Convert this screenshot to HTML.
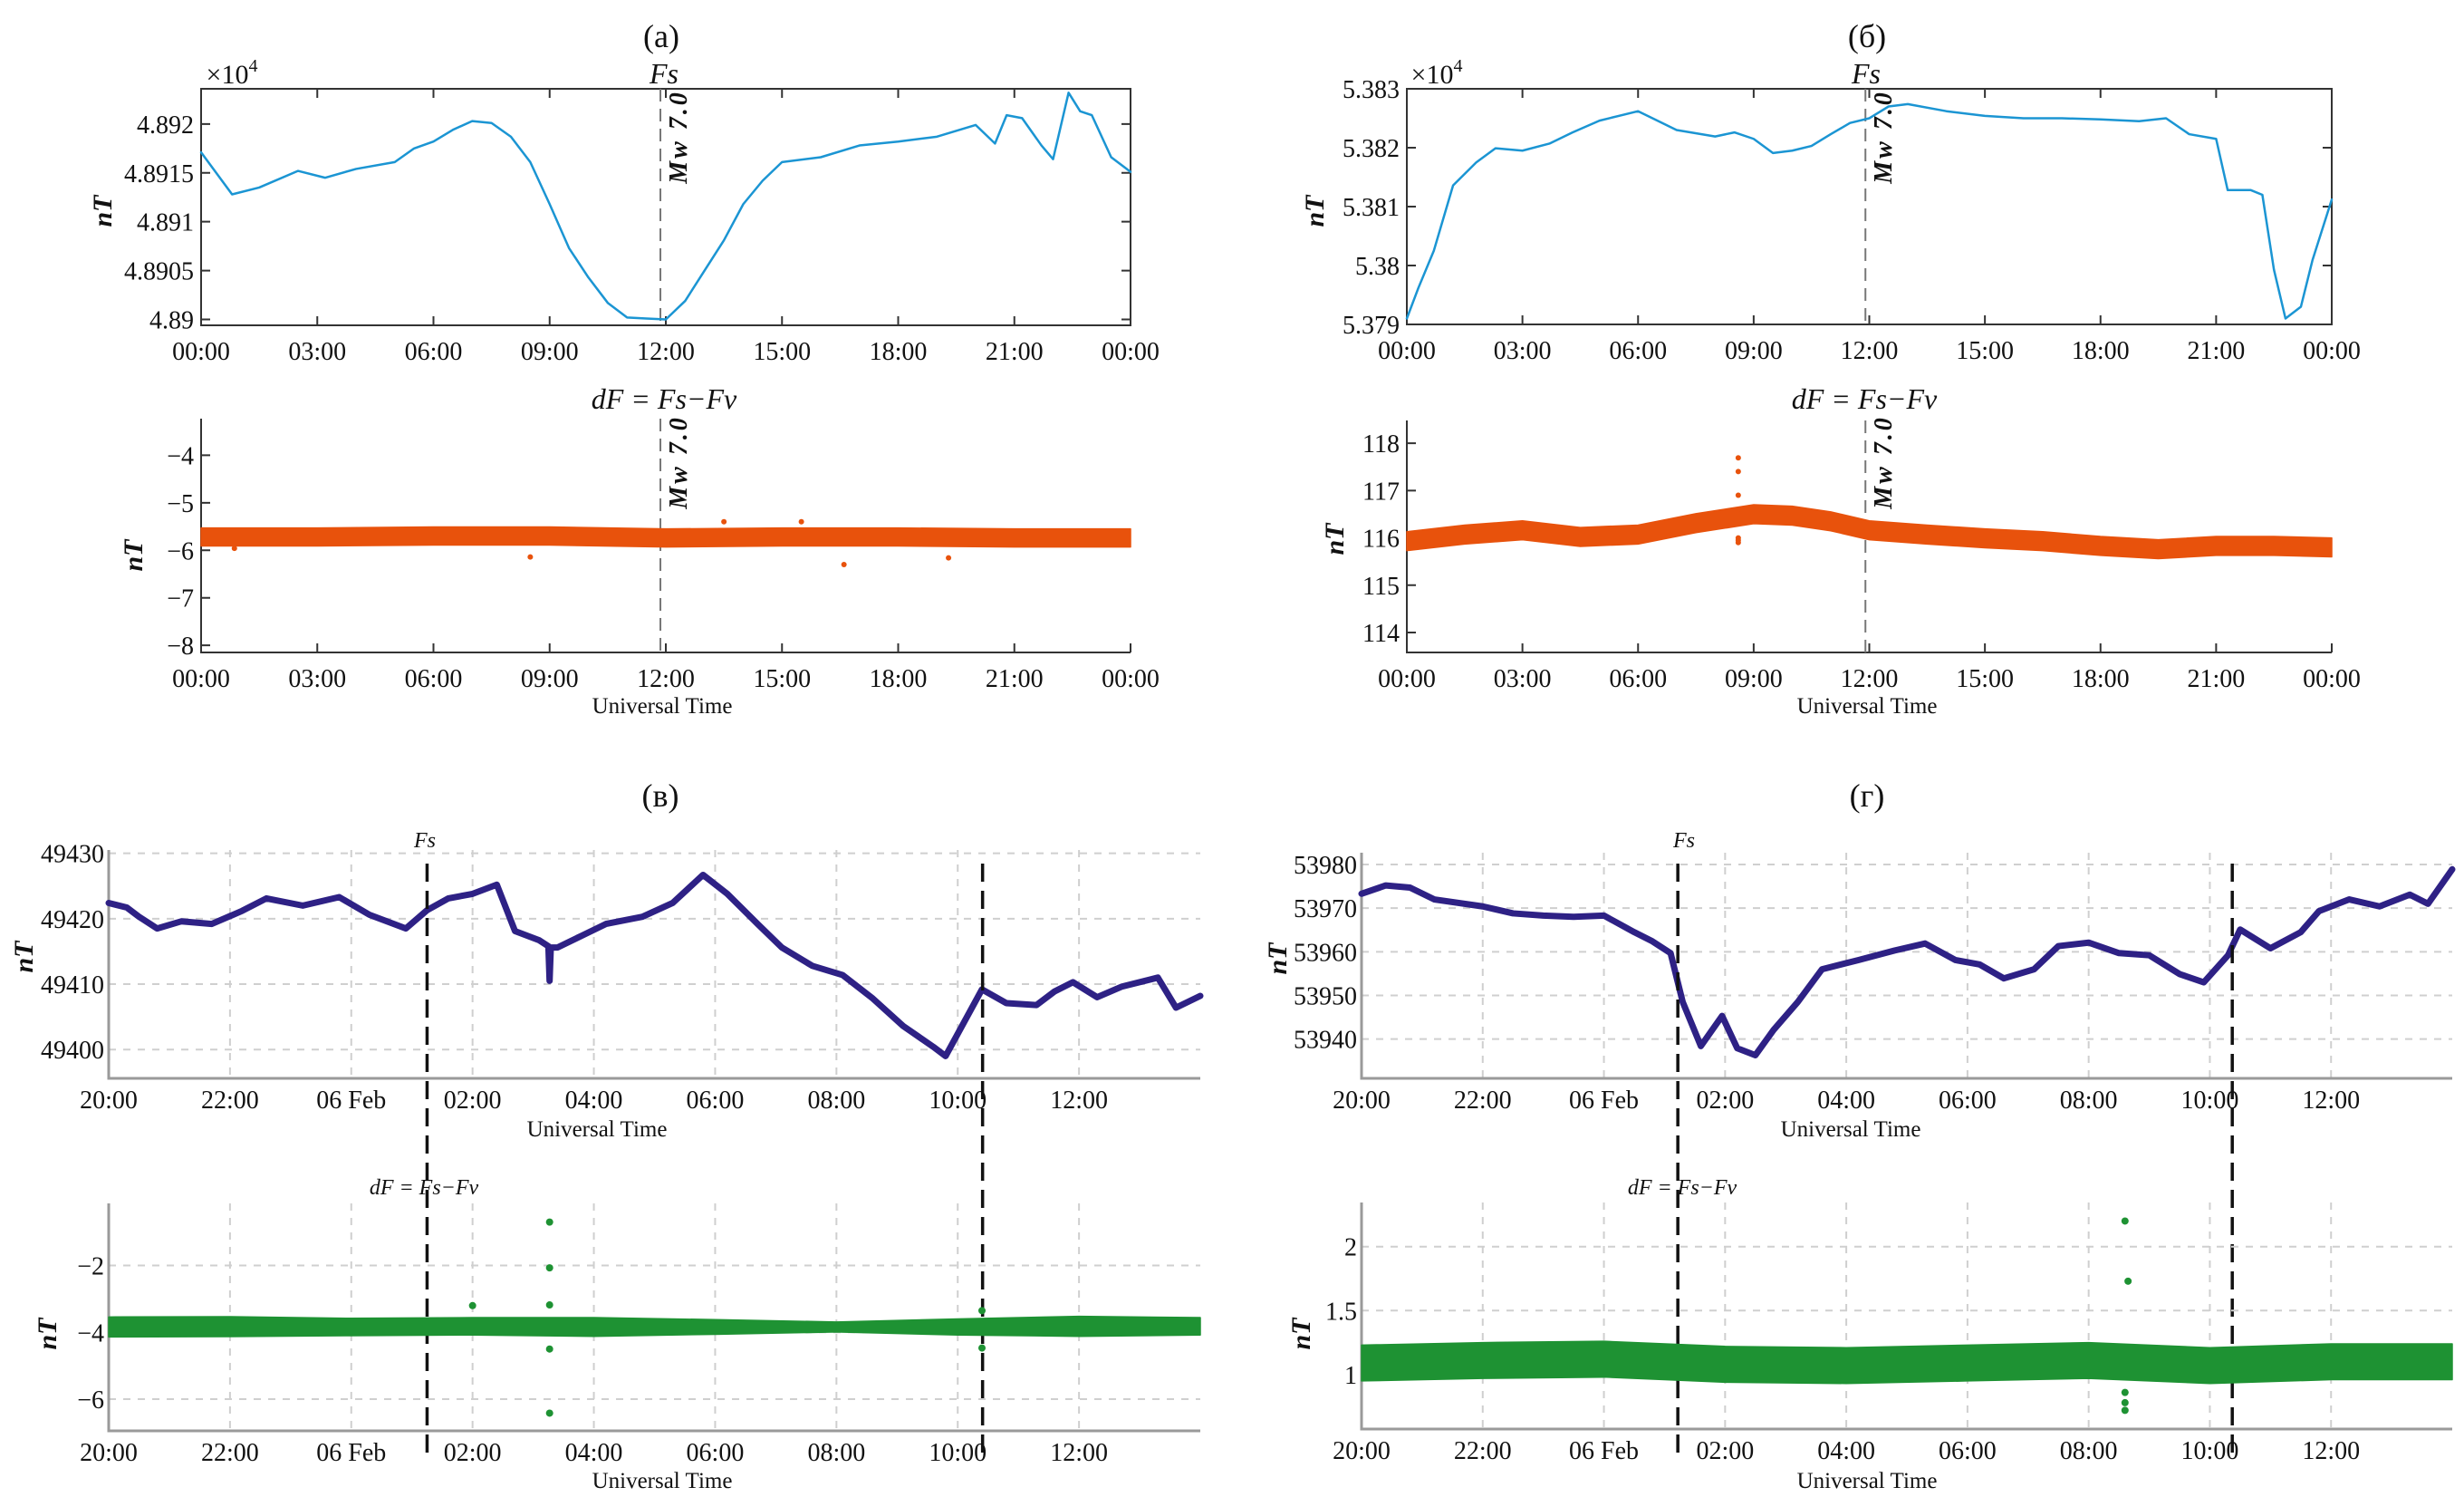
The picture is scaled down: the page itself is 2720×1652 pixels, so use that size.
<!DOCTYPE html>
<html><head><meta charset="utf-8">
<style>
html,body{margin:0;padding:0;background:#fff;}
svg{display:block;font-family:"Liberation Serif",serif;}
</style></head>
<body>
<svg id="fig" xmlns="http://www.w3.org/2000/svg" width="2720" height="1652" viewBox="0 0 2720 1652">
<rect x="0" y="0" width="2720" height="1652" fill="#fff"/>
</svg>
<script>
// ---------- data ----------
// (a) Fs, hours 0..24, nT
const aTimes = [0,0.8,1.5,2.5,3.2,4,5,5.5,6,6.5,7,7.5,8,8.5,9,9.5,10,10.5,11,11.5,12,12.5,13,13.5,14,14.5,15,16,17,18,19,20,20.5,20.8,21.2,21.7,22,22.4,22.7,23,23.5,24];
const aVals = [48917.1,48912.8,48913.5,48915.2,48914.5,48915.4,48916.1,48917.5,48918.2,48919.4,48920.3,48920.1,48918.7,48916.1,48911.8,48907.3,48904.3,48901.7,48900.2,48900.1,48900,48901.9,48905,48908.1,48911.8,48914.2,48916.1,48916.6,48917.8,48918.2,48918.7,48919.9,48918,48920.9,48920.6,48917.8,48916.4,48923.2,48921.3,48920.9,48916.6,48915.1];
// (a) dF band
const adTimes = [0,3,6,9,12,15,18,21,24];
const adCenter = [-5.72,-5.72,-5.70,-5.70,-5.74,-5.72,-5.72,-5.74,-5.74];
const adHalf = [0.19,0.19,0.19,0.19,0.19,0.19,0.19,0.19,0.19];
const adOutT = [0.86,8.5,16.6,19.3,13.5,15.5];
const adOutV = [-5.96,-6.14,-6.3,-6.16,-5.4,-5.4];
// (б) Fs
const bTimes = [0,0.3,0.7,1.2,1.8,2.3,3,3.7,4.3,5,6,7,8,8.5,9,9.5,10,10.5,11,11.5,12,12.5,13,14,15,16,17,18,19,19.7,20.3,21,21.3,21.9,22.2,22.5,22.8,23.2,23.5,24];
const bVals = [53791,53796.2,53802.5,53813.6,53817.5,53819.9,53819.5,53820.7,53822.6,53824.6,53826.2,53823,53821.9,53822.6,53821.5,53819.1,53819.5,53820.3,53822.3,53824.2,53825,53827,53827.4,53826.2,53825.4,53825,53825,53824.8,53824.5,53825,53822.3,53821.5,53812.8,53812.8,53812,53799.3,53791,53793,53800.9,53811.2];
// (б) dF band
const bdTimes = [0,1.5,3,4.5,6,7.5,9,10,11,12,13.5,15,16.5,18,19.5,21,22.5,24];
const bdCenter = [115.93,116.07,116.16,116.02,116.07,116.31,116.5,116.47,116.35,116.16,116.07,115.99,115.93,115.83,115.76,115.83,115.83,115.8];
const bdHalf = [0.2,0.2,0.2,0.2,0.2,0.2,0.2,0.2,0.2,0.2,0.2,0.2,0.2,0.2,0.2,0.2,0.2,0.2];
const bdOutT = [8.6,8.6,8.6,8.6,8.6,8.6,8.6];
const bdOutV = [117.69,117.4,116.9,116.6,116.0,115.95,115.9];
// (в) Fs, hours since 20:00
const vTimes = [0,0.3,0.5,0.8,1.2,1.7,2.2,2.6,3.2,3.8,4.3,4.9,5.25,5.6,6.0,6.4,6.7,7.1,7.25,7.27,7.29,7.4,7.8,8.2,8.8,9.3,9.8,10.2,10.7,11.1,11.6,12.1,12.6,13.1,13.6,13.8,14.4,14.8,15.3,15.6,15.9,16.3,16.7,17.3,17.6,18];
const vVals = [49422.4,49421.7,49420.3,49418.5,49419.6,49419.2,49421.2,49423.1,49422,49423.3,49420.6,49418.5,49421.3,49423.1,49423.8,49425.2,49418.1,49416.7,49415.8,49410.5,49415.6,49415.6,49417.4,49419.2,49420.3,49422.4,49426.7,49423.8,49419.2,49415.6,49412.8,49411.4,49407.8,49403.6,49400.4,49399,49409.2,49407.1,49406.8,49408.9,49410.3,49408,49409.6,49411,49406.4,49408.2];
// (в) dF band
const vdTimes = [0,2,4,6,8,10,12,14,16,18];
const vdCenter = [-3.84,-3.83,-3.84,-3.82,-3.84,-3.84,-3.84,-3.84,-3.82,-3.82];
const vdHalf = [0.3,0.3,0.26,0.26,0.28,0.22,0.15,0.24,0.3,0.26];
const vdOutT = [7.27,7.27,7.27,7.27,7.27,6.0,14.4,14.4];
const vdOutV = [-0.7,-2.07,-3.18,-4.5,-6.42,-3.2,-3.35,-4.47];
// (г) Fs
const gTimes = [0,0.4,0.8,1.2,2,2.5,3,3.5,4.0,4.5,4.8,5.1,5.3,5.6,5.95,6.2,6.5,6.8,7.2,7.6,8.2,8.8,9.3,9.8,10.2,10.6,11.1,11.5,12.0,12.5,13,13.5,13.9,14.3,14.5,15.0,15.5,15.8,16.3,16.8,17.3,17.6,18];
const gVals = [53973.3,53975.2,53974.7,53972,53970.4,53968.8,53968.3,53968,53968.3,53964.5,53962.4,53959.7,53948.5,53938.4,53945.3,53937.9,53936.3,53942.1,53948.5,53956,53958.1,53960.3,53961.9,53958.1,53957.1,53953.9,53956,53961.3,53962.1,53959.7,53959.2,53954.9,53953,53959.2,53965.1,53960.8,53964.5,53969.3,53972,53970.4,53973.1,53971,53978.9];
// (г) dF band
const gdTimes = [0,2,4,6,8,10,12,14,16,18];
const gdCenter = [1.09,1.11,1.12,1.08,1.07,1.09,1.11,1.07,1.10,1.10];
const gdHalf = [0.14,0.14,0.14,0.14,0.14,0.14,0.14,0.14,0.14,0.14];
const gdOutT = [12.6,12.65,12.6,12.6,12.6];
const gdOutV = [2.2,1.73,0.86,0.78,0.72];
// tick labels
const dayTicks = [0,3,6,9,12,15,18,21,24];
const dayLabels = ["00:00","03:00","06:00","09:00","12:00","15:00","18:00","21:00","00:00"];
const febTicks = [0,2,4,6,8,10,12,14,16];
const febLabels = ["20:00","22:00","06 Feb","02:00","04:00","06:00","08:00","10:00","12:00"];
const aTicks = [48900,48905,48910,48915,48920];
const aLabels = ["4.89","4.8905","4.891","4.8915","4.892"];
const bTicksY = [53790,53800,53810,53820,53830];
const bLabels = ["5.379","5.38","5.381","5.382","5.383"];
const adTicks = [-8,-7,-6,-5,-4];
const bdTicks = [114,115,116,117,118];
const vTicksY = [49400,49410,49420,49430];
const vLabels = ["49400","49410","49420","49430"];
const gTicksY = [53940,53950,53960,53970,53980];
const vdTicks = [-6,-4,-2];
const vdLabels = ["\u22126","\u22124","\u22122"];
const gdTicks = [1,1.5,2];
const eqA = 11.86, eqB = 11.9;
const eventsV = [5.25,14.41];
const eventsG = [5.22,14.37];

// ---------- helpers ----------
const NS = "http://www.w3.org/2000/svg";
const svg = document.getElementById("fig");
function el(tag, parent){ const e=document.createElementNS(NS,tag); (parent||svg).appendChild(e); return e; }
function txt(parent, s, x, y, size, anchor, extra){
  const t=el("text",parent); t.setAttribute("x",x); t.setAttribute("y",y);
  t.setAttribute("font-size",size); t.setAttribute("text-anchor",anchor||"middle"); t.setAttribute("fill","#111");
  if(extra){ for(const k in extra) t.setAttribute(k,extra[k]); }
  t.textContent=s; return t;
}
function lin(d0,d1,r0,r1){ return v=>r0+(v-d0)/(d1-d0)*(r1-r0); }
function minus(s){ return String(s).replace("-","\u2212"); }

function matlabPanel(name, c){
  const g=el("g");  
  const sx=lin(c.xmin,c.xmax,c.x0,c.x1), sy=lin(c.ymin,c.ymax,c.y1,c.y0);
  const ax=el("path",g);
  
  
  let d = c.box ? `M${c.x0},${c.y0}H${c.x1}V${c.y1}H${c.x0}Z` : `M${c.x0},${c.y0}V${c.y1}H${c.x1}`;
  ax.setAttribute("d",d); ax.setAttribute("fill","none"); ax.setAttribute("stroke","#333"); ax.setAttribute("stroke-width","2");
  const tk=el("path",g); let td="";
  c.xticks.forEach(v=>{ const x=sx(v); td+=`M${x},${c.y1}v-10`; if(c.box) td+=`M${x},${c.y0}v10`; });
  c.yticks.forEach(v=>{ const y=sy(v); td+=`M${c.x0},${y}h10`; if(c.box) td+=`M${c.x1},${y}h-10`; });
  tk.setAttribute("d",td); tk.setAttribute("stroke","#333"); tk.setAttribute("stroke-width","2");
  c.xticks.forEach((v,i)=>{ const t=txt(g,c.xlabels[i],sx(v),c.y1+38,28);
      });
  c.yticks.forEach((v,i)=>{ const t=txt(g,c.ylabels[i],c.x0-8,sy(v)+10,28,"end");
      });
  return {g,sx,sy};
}
function gridPanel(name, c){
  const g=el("g");  
  const sx=lin(c.xmin,c.xmax,c.x0,c.x1), sy=lin(c.ymin,c.ymax,c.y1,c.y0);
  const gr=el("path",g); let gd="";
  c.xticks.forEach(v=>{ gd+=`M${sx(v)},${c.y0}V${c.y1}`; });
  c.yticks.forEach(v=>{ gd+=`M${c.x0},${sy(v)}H${c.x1}`; });
  gr.setAttribute("d",gd); gr.setAttribute("stroke","#cfcfcf"); gr.setAttribute("stroke-width","2"); gr.setAttribute("stroke-dasharray","8 8");
   
  const ax=el("path",g);
  
  
  ax.setAttribute("d",`M${c.x0},${c.y0}V${c.y1}H${c.x1}`); ax.setAttribute("fill","none"); ax.setAttribute("stroke","#9a9a9a"); ax.setAttribute("stroke-width","3");
  c.xticks.forEach((v,i)=>{ const t=txt(g,c.xlabels[i],sx(v),c.y1+33,28);
      });
  c.yticks.forEach((v,i)=>{ const t=txt(g,c.ylabels[i],c.x0-5,sy(v)+10,28,"end");
      });
  return {g,sx,sy};
}
function line(p, ts, vs, color, w, name){
  const pl=el("polyline",p.g);
  
  
  pl.setAttribute("points",ts.map((t,i)=>p.sx(t)+","+p.sy(vs[i])).join(" "));
  pl.setAttribute("fill","none"); pl.setAttribute("stroke",color); pl.setAttribute("stroke-width",w); pl.setAttribute("stroke-linejoin","round"); pl.setAttribute("stroke-linecap","round");
}
function band(p, ts, cs, hs, color, name){
  const up=ts.map((t,i)=>p.sx(t)+","+p.sy(cs[i]+hs[i]));
  const lo=ts.map((t,i)=>p.sx(t)+","+p.sy(cs[i]-hs[i])).reverse();
  const pg=el("polygon",p.g);
  
  
  pg.setAttribute("points",up.concat(lo).join(" "));
  pg.setAttribute("fill",color); pg.setAttribute("stroke",color); pg.setAttribute("stroke-width","1.5"); pg.setAttribute("stroke-linejoin","round");
}
function dots(p, ts, vs, color, r, name){
  ts.forEach((t,i)=>{ const c=el("circle",p.g);
    
    
    c.setAttribute("cx",p.sx(t)); c.setAttribute("cy",p.sy(vs[i])); c.setAttribute("r",r); c.setAttribute("fill",color); });
}
function vdash(p, t, y0, y1, color, w, dash, name){
  const l=el("line",p.g);
  
  
  const x=p.sx(t); l.setAttribute("x1",x); l.setAttribute("x2",x); l.setAttribute("y1",y0); l.setAttribute("y2",y1);
  l.setAttribute("stroke",color); l.setAttribute("stroke-width",w); l.setAttribute("stroke-dasharray",dash);
}
function label(s,x,y,size,name,extra){ const t=txt(svg,s,x,y,size,"middle",extra);
    return t; }
function nT(x,y,name){ return label("nT",x,y+10,30,name,{"font-weight":"bold","font-style":"italic","transform":`rotate(-90 ${x} ${y})`}); }
function mw(x,y,name){ return label("Mw 7.0",x,y+10,28,name,{"font-weight":"bold","font-style":"italic","letter-spacing":"3","transform":`rotate(-90 ${x} ${y})`}); }

// ---------- (a) ----------
const pa = matlabPanel("panel-a-fs",{x0:222,x1:1248,y0:98,y1:359,xmin:0,xmax:24,ymin:48899.4,ymax:48923.6,xticks:dayTicks,xlabels:dayLabels,yticks:aTicks,ylabels:aLabels,box:true});
vdash(pa,eqA,98,359,"#777",2,"14 8","quake-line-a-top");
line(pa,aTimes,aVals,"#1b95d3",2.5,"fs-line-a");
const pad = matlabPanel("panel-a-df",{x0:222,x1:1248,y0:462,y1:720,xmin:0,xmax:24,ymin:-8.15,ymax:-3.23,xticks:dayTicks,xlabels:dayLabels,yticks:adTicks,ylabels:adTicks.map(minus),box:false});
vdash(pad,eqA,462,720,"#777",2,"14 8","quake-line-a-bottom");
band(pad,adTimes,adCenter,adHalf,"#e8520c","df-band-a");
dots(pad,adOutT,adOutV,"#e8520c",3,"df-outlier-a");
label("(a)",730,52,36,"panel-a-title");
label("\u00d710",256,92,30,"exponent-a").innerHTML="\u00d710<tspan dy='-13' font-size='20'>4</tspan>";
label("Fs",733,92,32,"fs-title-a",{"font-style":"italic"});
label("dF = Fs\u2212Fv",733,451,32,"df-title-a",{"font-style":"italic"});
label("Universal Time",731,787,25,"x-axis-title-a");
nT(113,233,"y-axis-title-a-top"); nT(147,613,"y-axis-title-a-bottom");
mw(748,151,"mw-label-a-top"); mw(748,510,"mw-label-a-bottom");

// ---------- (б) ----------
const pb = matlabPanel("panel-b-fs",{x0:1553,x1:2574,y0:98,y1:358,xmin:0,xmax:24,ymin:53790,ymax:53830,xticks:dayTicks,xlabels:dayLabels,yticks:bTicksY,ylabels:bLabels,box:true});
vdash(pb,eqB,98,358,"#777",2,"14 8","quake-line-b-top");
line(pb,bTimes,bVals,"#1b95d3",2.5,"fs-line-b");
const pbd = matlabPanel("panel-b-df",{x0:1553,x1:2574,y0:464,y1:720,xmin:0,xmax:24,ymin:113.58,ymax:118.48,xticks:dayTicks,xlabels:dayLabels,yticks:bdTicks,ylabels:bdTicks.map(String),box:false});
vdash(pbd,eqB,464,720,"#777",2,"14 8","quake-line-b-bottom");
band(pbd,bdTimes,bdCenter,bdHalf,"#e8520c","df-band-b");
dots(pbd,bdOutT,bdOutV,"#e8520c",3,"df-outlier-b");
label("(\u0431)",2061,52,36,"panel-b-title");
label("\u00d710",1586,92,30,"exponent-b").innerHTML="\u00d710<tspan dy='-13' font-size='20'>4</tspan>";
label("Fs",2060,92,32,"fs-title-b",{"font-style":"italic"});
label("dF = Fs\u2212Fv",2058,451,32,"df-title-b",{"font-style":"italic"});
label("Universal Time",2061,787,25,"x-axis-title-b");
nT(1451,233,"y-axis-title-b-top"); nT(1473,595,"y-axis-title-b-bottom");
mw(2078,151,"mw-label-b-top"); mw(2078,510,"mw-label-b-bottom");

// ---------- (в) ----------
const pv = gridPanel("panel-v-fs",{x0:120,x1:1325,y0:938,y1:1190,xmin:0,xmax:18,ymin:49395.6,ymax:49430.5,xticks:febTicks,xlabels:febLabels,yticks:vTicksY,ylabels:vLabels});
line(pv,vTimes,vVals,"#2e2185",7,"fs-line-v");
const pvd = gridPanel("panel-v-df",{x0:120,x1:1325,y0:1328,y1:1579,xmin:0,xmax:18,ymin:-6.95,ymax:-0.14,xticks:febTicks,xlabels:febLabels,yticks:vdTicks,ylabels:vdLabels});
band(pvd,vdTimes,vdCenter,vdHalf,"#1e9233","df-band-v");
dots(pvd,vdOutT,vdOutV,"#1e9233",4,"df-outlier-v");
eventsV.forEach(t=>vdash(pv,t,953,1608,"#111",3.5,"20 10","event-line-v"));
label("(\u0432)",729,890,36,"panel-v-title");
label("Fs",469,935,24,"fs-title-v",{"font-style":"italic"});
label("dF = Fs\u2212Fv",468,1318,24,"df-title-v",{"font-style":"italic"});
label("Universal Time",659,1254,25,"x-axis-title-v-top");
label("Universal Time",731,1642,25,"x-axis-title-v-bottom");
nT(26,1056,"y-axis-title-v-top"); nT(52,1472,"y-axis-title-v-bottom");

// ---------- (г) ----------
const pg = gridPanel("panel-g-fs",{x0:1503,x1:2707,y0:941,y1:1190,xmin:0,xmax:18,ymin:53931,ymax:53982.7,xticks:febTicks,xlabels:febLabels,yticks:gTicksY,ylabels:gTicksY.map(String)});
line(pg,gTimes,gVals,"#2e2185",7,"fs-line-g");
const pgd = gridPanel("panel-g-df",{x0:1503,x1:2707,y0:1327,y1:1577,xmin:0,xmax:18,ymin:0.574,ymax:2.345,xticks:febTicks,xlabels:febLabels,yticks:gdTicks,ylabels:["1","1.5","2"]});
band(pgd,gdTimes,gdCenter,gdHalf,"#1e9233","df-band-g");
dots(pgd,gdOutT,gdOutV,"#1e9233",4,"df-outlier-g");
eventsG.forEach(t=>vdash(pg,t,953,1608,"#111",3.5,"20 10","event-line-g"));
label("(\u0433)",2061,890,36,"panel-g-title");
label("Fs",1859,935,24,"fs-title-g",{"font-style":"italic"});
label("dF = Fs\u2212Fv",1857,1318,24,"df-title-g",{"font-style":"italic"});
label("Universal Time",2043,1254,25,"x-axis-title-g-top");
label("Universal Time",2061,1642,25,"x-axis-title-g-bottom");
nT(1410,1058,"y-axis-title-g-top"); nT(1436,1472,"y-axis-title-g-bottom");
</script>
</body></html>
